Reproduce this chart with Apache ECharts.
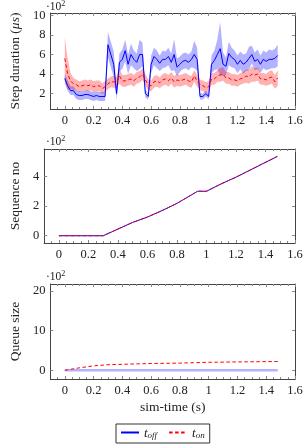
<!DOCTYPE html>
<html><head><meta charset="utf-8">
<script src="https://cdn.jsdelivr.net/npm/echarts@6/dist/echarts.min.js"></script>
<style>html,body{margin:0;padding:0;background:#fff}#c{width:308px;height:445px}</style>
</head><body><div id="c"></div><script>
// ---- data (values in units of 10^2) ----
const time = [0,0.02,0.04,0.06,0.08,0.10,0.12,0.14,0.16,0.18,0.20,0.22,0.24,0.26,0.28,0.30,0.32,0.34,0.36,0.38,0.40,0.42,0.44,0.46,0.48,0.50,0.52,0.54,0.56,0.58,0.60,0.62,0.64,0.66,0.68,0.70,0.72,0.74,0.76,0.78,0.80,0.82,0.84,0.86,0.88,0.90,0.92,0.94,0.96,0.98,1.00,1.02,1.04,1.06,1.08,1.10,1.12,1.14,1.16,1.18,1.20,1.22,1.24,1.26,1.28,1.30,1.32,1.34,1.36,1.38,1.40,1.42,1.44,1.46,1.48];
const stepOff = [3.55,2.8,2.3,2.3,1.9,1.8,1.8,1.9,1.9,1.8,1.7,1.8,1.7,1.7,1.7,7.0,6.0,5.0,2.0,5.2,5.5,6.4,5.0,6.0,5.5,5.2,6.0,6.0,2.0,1.7,5.0,5.8,5.5,5.1,5.5,5.5,5.8,5.2,6.0,4.7,5.0,5.3,5.4,5.2,5.5,6.0,5.5,1.7,1.7,2.0,1.7,5.0,5.4,6.0,6.6,5.0,4.8,6.1,5.7,5.5,5.0,5.4,5.0,5.2,5.6,6.0,5.3,5.5,5.0,5.5,5.3,5.5,5.5,5.6,5.9];
const stepOffDev = [0.5,0.5,0.45,0.45,0.45,0.45,0.45,0.45,0.45,0.45,0.45,0.45,0.45,0.45,0.45,1.3,1.3,1.3,0.6,0.9,1.0,1.1,1.0,1.1,0.9,0.9,1.5,1.2,0.4,0.3,0.9,0.9,0.9,0.8,0.9,0.8,0.9,0.9,1.6,0.9,0.8,0.8,0.8,0.8,0.8,1.4,1.2,0.3,0.3,0.3,0.3,0.9,1.0,1.5,2.7,1.2,0.9,1.2,1.0,0.9,0.9,0.9,1.0,0.9,1.2,0.9,0.9,1.0,0.9,0.9,0.9,1.0,0.9,1.0,1.1];
const stepOn = [5.6,4.0,3.3,3.0,2.9,2.7,2.8,2.9,2.8,2.9,2.7,2.8,2.8,2.5,2.7,3.0,3.2,3.2,3.1,3.8,3.3,3.3,3.4,3.5,3.3,3.6,3.7,4.0,3.4,2.9,2.8,3.2,3.3,3.1,3.4,3.5,3.3,3.6,3.2,3.4,3.3,3.4,3.5,3.3,3.2,3.8,3.3,2.9,2.8,2.6,2.7,3.5,3.5,3.8,3.9,4.0,3.6,3.6,3.4,3.4,3.3,3.5,3.6,3.8,3.7,4.0,3.9,4.0,3.5,3.5,3.4,3.6,3.7,3.2,3.6];
const stepOnDev = [2.2,1.6,0.8,0.6,0.55,0.55,0.55,0.55,0.55,0.55,0.55,0.55,0.55,0.55,0.55,0.55,0.55,0.6,0.6,0.8,0.6,0.6,0.6,0.6,0.6,0.6,0.6,0.6,0.6,0.55,0.55,0.6,0.6,0.55,0.6,0.6,0.6,0.6,0.6,0.6,0.6,0.6,0.6,0.6,0.6,0.6,0.6,0.55,0.55,0.55,0.55,0.6,0.6,0.6,0.7,0.7,0.6,0.6,0.6,0.6,0.6,0.6,0.6,0.7,0.7,0.8,0.7,0.7,0.6,0.6,0.6,0.7,0.7,0.7,0.8];

const seqTime = [0,0.3,0.4,0.5,0.6,0.7,0.8,0.94,1.0,1.1,1.2,1.3,1.48];
const seqOff  = [0,0,0.45,0.9,1.26,1.7,2.18,3.0,3.0,3.5,3.95,4.45,5.35];
const seqOn   = [0,0,0.45,0.9,1.26,1.7,2.18,3.0,3.0,3.5,3.95,4.45,5.35];

const qTime = [0,0.1,0.2,0.3,0.4,0.6,0.8,1.0,1.2,1.48];
const qOff  = [0,0,0,0,0,0,0,0,0,0];
const qOffDev = [0.3,0.3,0.3,0.3,0.3,0.3,0.3,0.3,0.3,0.3];
const qOn   = [0,0.6,1.1,1.4,1.5,1.7,1.8,2.0,2.1,2.2];

const xTicks = [0,0.2,0.4,0.6,0.8,1,1.2,1.4,1.6];
const xMinor = [-0.05,0.05,0.1,0.15,0.25,0.3,0.35,0.45,0.5,0.55,0.65,0.7,0.75,0.85,0.9,0.95,1.05,1.1,1.15,1.25,1.3,1.35,1.45,1.5,1.55];
const yTicks = [[2,4,6,8,10],[0,2,4],[0,10,20]];
const yRange = [[0.42,10.25],[-0.49,5.85],[-2.2,21.7]];
const yNames = ['Step duration ({m|μs})','Sequence no','Queue size'];

// ---- layout ----
const F = 'Liberation Serif';
const grids = [{top:13,height:96},{top:149,height:94},{top:284,height:95}];
const BOX = '#444', TK = '#888';

const xAxes = [], yAxes = [];
grids.forEach((g,gi)=>{
  const base = {gridIndex:gi,type:'value',min:-0.1,max:1.6,splitLine:{show:false}};
  xAxes.push(Object.assign({},base,{position:'bottom',
    axisLine:{show:true,onZero:false,lineStyle:{color:BOX,width:1}},
    axisTick:{show:true,inside:true,length:3,customValues:xTicks,lineStyle:{color:TK}},
    axisLabel:{show:true,customValues:xTicks,margin:5,fontFamily:F,fontSize:12.5,color:'#222',formatter:v=>String(+v.toFixed(1))},
    name: gi===2?'sim-time (s)':'', nameLocation:'middle', nameGap:21,
    nameTextStyle:{fontFamily:F,fontSize:13.5,color:'#222'}}));
  xAxes.push(Object.assign({},base,{position:'bottom',axisLine:{show:false,onZero:false},
    axisTick:{show:true,inside:true,length:2,customValues:xMinor,lineStyle:{color:TK}},axisLabel:{show:false}}));
  xAxes.push(Object.assign({},base,{position:'top',axisLine:{show:true,onZero:false,lineStyle:{color:BOX,width:1}},
    axisTick:{show:true,inside:true,length:3,customValues:xTicks,lineStyle:{color:TK}},axisLabel:{show:false}}));
  xAxes.push(Object.assign({},base,{position:'top',axisLine:{show:false,onZero:false},
    axisTick:{show:true,inside:true,length:2,customValues:xMinor,lineStyle:{color:TK}},axisLabel:{show:false}}));
  const yb = {gridIndex:gi,type:'value',min:yRange[gi][0],max:yRange[gi][1],splitLine:{show:false}};
  yAxes.push(Object.assign({},yb,{position:'left',
    axisLine:{show:true,onZero:false,lineStyle:{color:BOX,width:1}},
    axisTick:{show:true,inside:true,length:3,customValues:yTicks[gi],lineStyle:{color:TK}},
    axisLabel:{show:true,customValues:yTicks[gi],margin:5,fontFamily:F,fontSize:12.5,color:'#222'},
    name:yNames[gi],nameLocation:'middle',nameRotate:90,nameGap:[24,20,26][gi],
    nameTextStyle:{fontFamily:F,fontSize:13.5,color:'#222',rich:{m:{fontFamily:F,fontStyle:'italic',fontSize:13.5,color:'#222'}}}}));
  yAxes.push(Object.assign({},yb,{position:'right',
    axisLine:{show:true,onZero:false,lineStyle:{color:BOX,width:1}},
    axisTick:{show:true,inside:true,length:3,customValues:yTicks[gi],lineStyle:{color:TK}},
    axisLabel:{show:false}}));
});

function band(gi, xs, mid, dev, color, z){
  return {type:'custom', name:'_band', xAxisIndex:gi*4, yAxisIndex:gi*2, z:z, silent:true,
    data: xs.map((x,i)=>[x, mid[i]]),
    renderItem(params, api){
      if(params.dataIndex!==0) return null;
      const up = xs.map((x,i)=>api.coord([x, mid[i]+dev[i]]));
      const dn = xs.map((x,i)=>api.coord([x, mid[i]-dev[i]])).reverse();
      return {type:'polygon', shape:{points:up.concat(dn)}, style:{fill:color}};
    }};
}
function line(gi, name, xs, ys, color, dashed, z){
  return {type:'line', name:name, xAxisIndex:gi*4, yAxisIndex:gi*2, z:z, symbol:'none', silent:true,
    data: xs.map((x,i)=>[x, ys[i]]),
    lineStyle:{color:color,width:1,type:dashed?[3.5,2.5]:'solid'}, itemStyle:{color:color}};
}
const BLUE='#0000ff', RED='#ff0000';
const BBAND='rgba(0,0,255,0.3)', RBAND='rgba(255,0,0,0.3)';

const series = [
  line(0,'toff',time,stepOff,BLUE,false,5),
  line(0,'ton',time,stepOn,RED,true,6),
  band(0,time,stepOff,stepOffDev,BBAND,1),
  band(0,time,stepOn,stepOnDev,RBAND,2),
  line(1,'toff',seqTime,seqOff,BLUE,false,5),
  line(1,'ton',seqTime,seqOn,RED,true,6),
  band(2,qTime,qOff,qOffDev,BBAND,1),
  line(2,'ton',qTime,qOn,RED,true,6)
];

const sci = (top)=>({type:'text',left:46,top:top,style:{text:'{a|·10}{b|2}',
  rich:{a:{fontFamily:F,fontSize:11.5,fill:'#222',verticalAlign:'bottom',lineHeight:13},
        b:{fontFamily:F,fontSize:8,fill:'#222',verticalAlign:'top',lineHeight:13}}}});

const chart = echarts.init(document.getElementById('c'),null,{renderer:'canvas'});
chart.setOption({
  animation:false,
  backgroundColor:'#fff',
  textStyle:{fontFamily:F},
  grid: grids.map(g=>({left:43,right:13,top:g.top,height:g.height,containLabel:false})),
  xAxis: xAxes, yAxis: yAxes, series: series,
  legend:{data:['toff','ton'],left:116,top:424,orient:'horizontal',
    borderColor:'#333',borderWidth:1,borderRadius:0,padding:[3,5,3,4],
    itemWidth:18,itemHeight:8,itemGap:11,
    itemStyle:{color:'transparent',borderColor:'transparent',borderWidth:0},
    formatter:n=>n==='toff'?'{i|t}{s|off}':'{i|t}{s|on}',
    textStyle:{fontFamily:F,color:'#222',rich:{
      i:{fontFamily:F,fontStyle:'italic',fontSize:13,lineHeight:15,verticalAlign:'bottom'},
      s:{fontFamily:F,fontStyle:'italic',fontSize:9,lineHeight:11,verticalAlign:'bottom'}}}},
  graphic:[sci(0),sci(135),sci(270)]
});
</script></body></html>
